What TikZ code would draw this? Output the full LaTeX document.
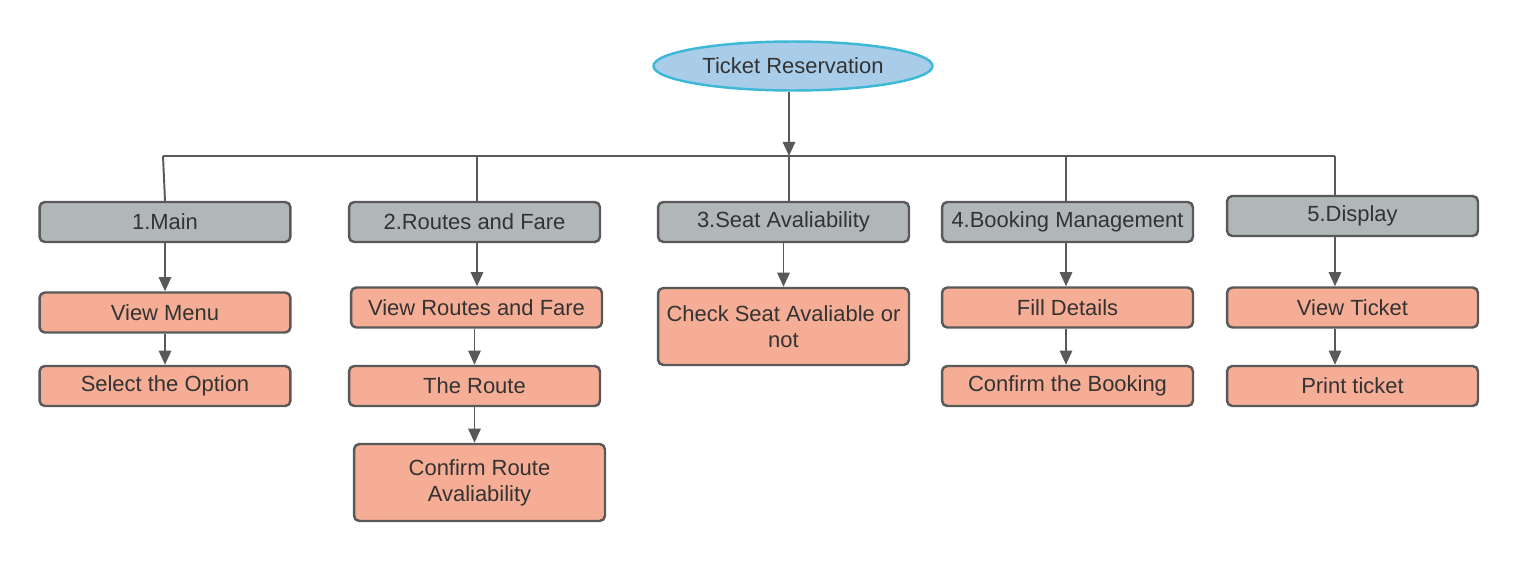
\documentclass[tikz,border=0pt]{standalone}
\usepackage{fontspec}
\setmainfont{Liberation Sans}
\usetikzlibrary{arrows.meta,shapes.geometric}
\definecolor{edgegray}{HTML}{595959}
\definecolor{headfill}{HTML}{B1B7B8}
\definecolor{leaffill}{HTML}{F6AD95}
\definecolor{rootfill}{HTML}{A9CDE9}
\definecolor{rootline}{HTML}{3DB8D6}
\definecolor{txt}{HTML}{333333}
\tikzset{
	box/.style={draw=edgegray,line width=1.4pt,rounded corners=3pt,minimum width=5.02cm,minimum height=0.8cm,align=center,text=txt,font=\fontsize{12.5}{15}\selectfont},
	headbox/.style={box,fill=headfill},
	leafbox/.style={box,fill=leaffill},
	tallbox/.style={leafbox,minimum height=1.54cm},
	link/.style={draw=edgegray,line width=1.1pt},
	arr/.style={link,-{Triangle[length=8pt,width=7pt]}}
}
\begin{document}
\begin{tikzpicture}[x=0.02cm,y=-0.02cm,line join=round]
	\useasboundingbox (0,0) rectangle (1519,561);
	% root
	\node[ellipse,draw=rootline,fill=rootfill,line width=1.4pt,minimum width=5.58cm,minimum height=0.98cm,text=txt,font=\fontsize{12.5}{15}\selectfont] (root) at (793,66) {Ticket Reservation};
	% bus
	\coordinate (busL) at (163,156);
	\coordinate (busM) at (789,156);
	\coordinate (busR) at (1335,156);
	\draw[link] (busL) -- (busR);
	\draw[arr] (root.south -| busM) -- (busM);
	% modules
	\node[headbox] (main) at (165,222) {1.Main};
	\node[headbox] (route) at (474.5,222) {2.Routes and Fare};
	\node[headbox] (seat) at (783.5,222) {3.Seat Avaliability};
	\node[headbox] (book) at (1067.5,222) {4.Booking Management};
	\node[headbox] (disp) at (1352.5,216) {5.Display};
	\coordinate (rdrop) at (477,156);
	\coordinate (bdrop) at (1066,156);
	\draw[link] (busL) -- (main.north);
	\draw[link] (rdrop) -- (rdrop |- route.north);
	\draw[link] (busM) -- (busM |- seat.north);
	\draw[link] (bdrop) -- (bdrop |- book.north);
	\draw[link] (busR) -- (busR |- disp.north);
	% column 1
	\node[leafbox] (menu) at (165,312.5) {View Menu};
	\node[leafbox] (opt) at (165,386) {Select the Option};
	% column 2
	\node[leafbox] (vrf) at (476.5,307.5) {View Routes and Fare};
	\node[leafbox] (theroute) at (474.5,386) {The Route};
	\node[tallbox] (conf) at (479.5,482.5) {Confirm Route\\Avaliability};
	% column 3
	\node[tallbox] (check) at (783.5,326.5) {Check Seat Avaliable or\\not};
	% column 4
	\node[leafbox] (fill) at (1067.5,307.5) {Fill Details};
	\node[leafbox] (cbook) at (1067.5,386) {Confirm the Booking};
	% column 5
	\node[leafbox] (vt) at (1352.5,307.5) {View Ticket};
	\node[leafbox] (pt) at (1352.5,386) {Print ticket};
	% arrows
	\draw[arr] (main.south) -- (menu.north);
	\draw[arr] (menu.south) -- (opt.north);
	\draw[arr] (rdrop |- route.south) -- (rdrop |- vrf.north);
	\draw[arr] (theroute.north |- vrf.south) -- (theroute.north);
	\draw[arr] (theroute.south) -- (theroute.south |- conf.north);
	\draw[arr] (seat.south) -- (check.north);
	\draw[arr] (bdrop |- book.south) -- (bdrop |- fill.north);
	\draw[arr] (bdrop |- fill.south) -- (bdrop |- cbook.north);
	\draw[arr] (busR |- disp.south) -- (busR |- vt.north);
	\draw[arr] (busR |- vt.south) -- (busR |- pt.north);
\end{tikzpicture}
\end{document}
